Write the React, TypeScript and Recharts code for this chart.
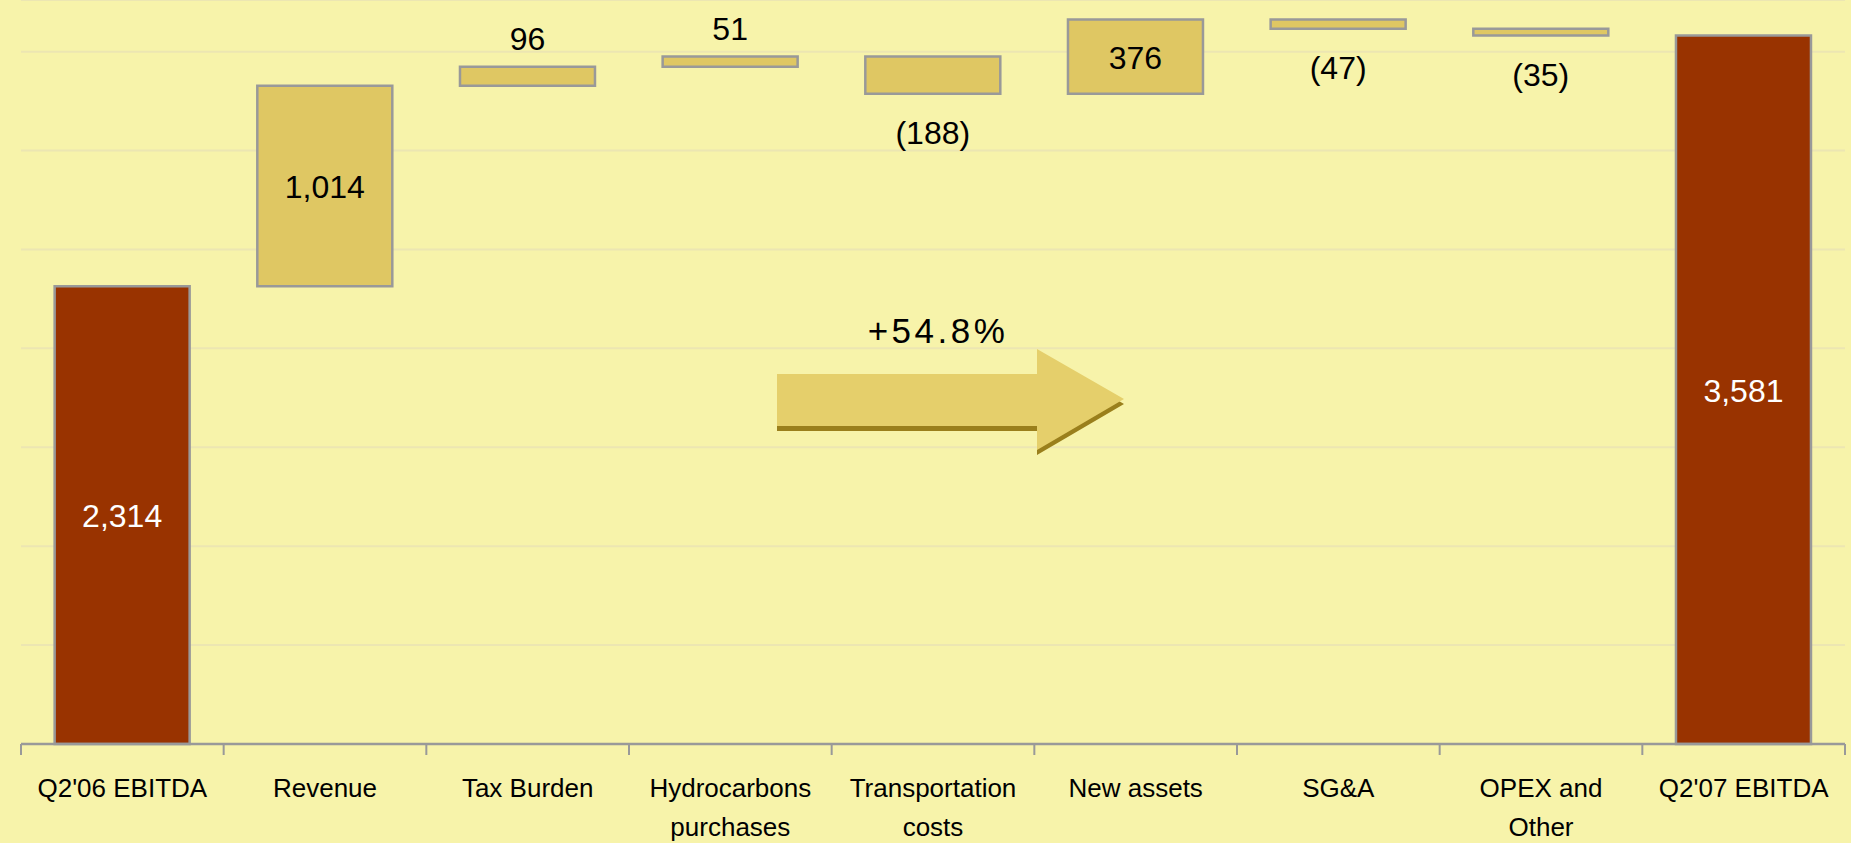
import React from "react";
import {
  BarChart,
  Bar,
  XAxis,
  YAxis,
  CartesianGrid,
  Cell,
  LabelList,
  Customized,
} from "recharts";

// categories / values
const categories = [
  "Q2'06 EBITDA",
  "Revenue",
  "Tax Burden",
  "Hydrocarbons\npurchases",
  "Transportation\ncosts",
  "New assets",
  "SG&A",
  "OPEX and\nOther",
  "Q2'07 EBITDA",
];
const changes = [2314, 1014, 96, 51, -188, 376, -47, -35, 3581];
const totals = [true, false, false, false, false, false, false, false, true];
const yTicks = [0, 500, 1000, 1500, 2000, 2500, 3000, 3500];
const growthLabel = "+54.8%";

const W = 1851;
const H = 843;
const LEFT = 21;
const RIGHT = 6;
const AXIS_H = 99;
const AXIS_Y = H - AXIS_H;
const BAND = (W - LEFT - RIGHT) / categories.length;

const BG = "#F7F3AA";
const RED = "#993300";
const GOLD = "#DFC763";
const EDGE = "#999999";
const FONT = "'Liberation Sans', Arial, sans-serif";

// waterfall table: invisible base + visible step
let running = 0;
const data = categories.map((name, i) => {
  const v = changes[i];
  let base: number;
  if (totals[i]) {
    base = 0;
    running = v;
  } else {
    base = v >= 0 ? running : running + v;
    running += v;
  }
  return { name, base, step: Math.abs(v) };
});

const fmt = (v: number) => {
  const s = Math.abs(v).toLocaleString("en-US");
  return v < 0 ? `(${s})` : s;
};

const StepLabel = (props: any) => {
  const { x, y, width, height, index } = props;
  const v = changes[index];
  const cx = x + width / 2;
  let ty: number;
  if (totals[index] || Math.abs(v) > 300) ty = y + height / 2 + 12;
  else if (v > 0) ty = y - 17;
  else ty = y + height + 50;
  return (
    <text
      x={cx}
      y={ty}
      textAnchor="middle"
      fontFamily={FONT}
      fontSize={32}
      fill={totals[index] ? "#ffffff" : "#000000"}
    >
      {fmt(v)}
    </text>
  );
};

const CategoryTick = (props: any) => {
  const { x, payload, index } = props;
  const lines = String(payload.value).split("\n");
  const left = x - BAND / 2;
  return (
    <g>
      <line x1={left} y1={AXIS_Y} x2={left} y2={AXIS_Y + 11} stroke={EDGE} strokeWidth={2} />
      {index === categories.length - 1 && (
        <line x1={left + BAND} y1={AXIS_Y} x2={left + BAND} y2={AXIS_Y + 11} stroke={EDGE} strokeWidth={2} />
      )}
      {lines.map((ln, i) => (
        <text
          key={i}
          x={x}
          y={AXIS_Y + 53 + i * 39}
          textAnchor="middle"
          fontFamily={FONT}
          fontSize={26}
          fill="#000"
        >
          {ln}
        </text>
      ))}
    </g>
  );
};

// the decorative growth arrow in the middle
const GrowthArrow = () => {
  const pts = "777,374 1037,374 1037,349 1124,399 1037,450 1037,426 777,426";
  const shadow = "777,378 1037,378 1037,353 1124,404 1037,455 1037,431 777,431";
  return (
    <g>
      <polygon points={shadow} fill="#9A7F1C" />
      <polygon points={pts} fill="#E5CF6B" />
      <text
        x={938}
        y={343}
        textAnchor="middle"
        fontFamily={FONT}
        fontSize={35}
        letterSpacing={3.5}
        fill="#000"
      >
        {growthLabel}
      </text>
    </g>
  );
};

export default function App() {
  return (
    <div style={{ position: "absolute", left: 0, top: 0, width: W, height: H, background: BG }}>
      <BarChart
        width={W}
        height={H}
        data={data}
        margin={{ top: 0, right: RIGHT, left: LEFT, bottom: 0 }}
        barCategoryGap="16.6%"
      >
        <CartesianGrid vertical={false} stroke="#ECE6B2" strokeWidth={2} />
        <YAxis hide domain={[0, 3761]} ticks={yTicks} />
        <XAxis
          dataKey="name"
          height={AXIS_H}
          axisLine={{ stroke: EDGE, strokeWidth: 2.5 }}
          tickLine={false}
          interval={0}
          tick={<CategoryTick />}
        />
        <Bar dataKey="base" stackId="w" fill="transparent" isAnimationActive={false} />
        <Bar dataKey="step" stackId="w" isAnimationActive={false} strokeWidth={2.5}>
          {data.map((_, i) => (
            <Cell key={`c-${i}`} fill={totals[i] ? RED : GOLD} stroke={EDGE} />
          ))}
          <LabelList dataKey="step" content={<StepLabel />} />
        </Bar>
        <Customized component={<GrowthArrow />} />
      </BarChart>
    </div>
  );
}
